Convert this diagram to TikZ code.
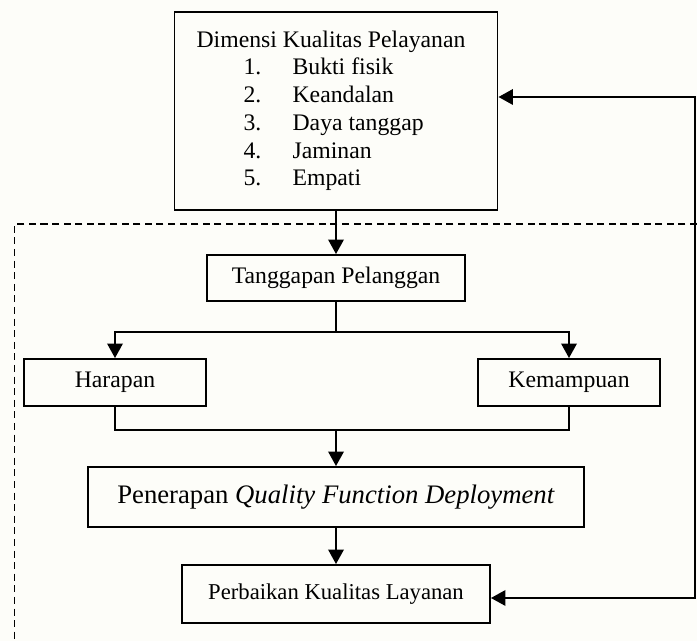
\documentclass[tikz,border=0pt]{standalone}
\usepackage{fontspec}
\setmainfont{Liberation Serif}
\usetikzlibrary{arrows.meta}
\definecolor{latar}{RGB}{253,253,249}

\begin{document}
\begin{tikzpicture}

      \tikzset{kotak/.style={draw, line width=1.1pt, inner sep=0pt, font=\fontsize{13.5}{15.3}\selectfont},
               panah/.style={line width=1.1pt, -{Triangle[length=2.9mm, width=3.1mm]}},
               garis/.style={line width=1.1pt},
               putus/.style={line width=0.9pt, dash pattern=on 4pt off 2.6pt}}

      \fill[latar] (0,0) rectangle (13.94,12.82);
      \useasboundingbox (0,0) rectangle (13.94,12.82);

%% Boxes
      \node[kotak, minimum width=6.46cm, minimum height=3.96cm] (dimensi) at (6.72,10.6) {%
        \fontsize{13.5}{15.8}\selectfont
        \begin{tabular}{@{}l@{\hspace{0.2cm}}}
          Dimensi Kualitas Pelayanan\\
          \hspace{0.94cm}\makebox[0.98cm][l]{1.}Bukti fisik\\
          \hspace{0.94cm}\makebox[0.98cm][l]{2.}Keandalan\\
          \hspace{0.94cm}\makebox[0.98cm][l]{3.}Daya tanggap\\
          \hspace{0.94cm}\makebox[0.98cm][l]{4.}Jaminan\\
          \hspace{0.94cm}\makebox[0.98cm][l]{5.}Empati
        \end{tabular}};
      \node[kotak, minimum width=5.16cm, minimum height=0.92cm] (tanggapan) at (6.72,7.26) {Tanggapan Pelanggan};
      \node[kotak, minimum width=3.64cm, minimum height=0.94cm] (harapan) at (2.30,5.17) {Harapan};
      \node[kotak, minimum width=3.64cm, minimum height=0.94cm] (kemampuan) at (11.38,5.17) {Kemampuan};
      \node[kotak, minimum width=9.91cm, minimum height=1.2cm, font=\fontsize{15.2}{18}\selectfont] (qfd) at (6.72,2.88) {Penerapan \textit{Quality Function Deployment}};
      \node[kotak, minimum width=6.16cm, minimum height=1.16cm, font=\fontsize{12.9}{15}\selectfont] (perbaikan) at (6.72,0.94) {Perbaikan Kualitas Layanan};

%% Points
      \coordinate (cabang) at (6.72,6.18);
      \coordinate (gabung) at (6.72,4.22);
      \coordinate (balik atas) at (13.9,10.88);
      \coordinate (balik bawah) at (13.9,0.86);
      \coordinate (putus kanan) at (13.94,8.34);
      \coordinate (putus kiri) at (0.29,8.34);
      \coordinate (putus bawah) at (0.29,0);

%Connectors
      \draw[putus] (putus kanan) -- (putus kiri) -- (putus bawah);
      \draw[panah] (dimensi) -- (tanggapan);
      \draw[garis] (tanggapan) -- (cabang);
      \draw[panah] (cabang) -| (harapan);
      \draw[panah] (cabang) -| (kemampuan);
      \draw[garis] (harapan) |- (gabung) -| (kemampuan);
      \draw[panah] (gabung) -- (qfd);
      \draw[panah] (qfd) -- (perbaikan);
      \draw[garis, {Triangle[length=2.9mm, width=3.1mm]}-{Triangle[length=2.9mm, width=3.1mm]}] (dimensi.east |- balik atas) -- (balik atas) -- (balik bawah) -- (perbaikan.east |- balik bawah);
\end{tikzpicture}
\end{document}
